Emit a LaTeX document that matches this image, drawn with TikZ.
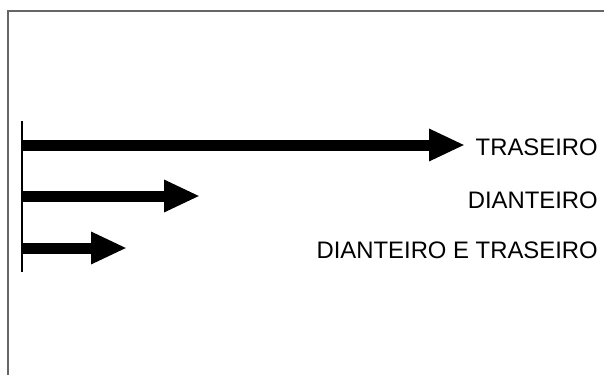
\documentclass[tikz,border=0pt]{standalone}
\usepackage{fontspec}
\setmainfont{Liberation Sans}
\usetikzlibrary{arrows.meta}

\begin{document}
\begin{tikzpicture}[x=0.75pt, y=-0.75pt,
    seta/.style={line width=8.25pt, -{Triangle[length=27pt, width=22.5pt]}},
    rotulo/.style={anchor=east, inner sep=0pt, font=\fontsize{17.9}{20}\selectfont}]
    \useasboundingbox (0,0) rectangle (604,375);
    % moldura (apenas bordas superior e esquerda)
    \draw[gray!80!black, line width=1.1pt] (8,375) -- (8,11) -- (604,11);
    % barra vertical
    \coordinate (topo) at (22,121);
    \coordinate (base) at (22,272);
    \draw[line width=1.6pt] (topo) -- (base);
    % setas e rotulos
    \foreach \nome/\ys/\yt/\fim/\texto in {tras/145/147.5/465/TRASEIRO,
        diant/196/200/200/DIANTEIRO, ambos/248/250/127/DIANTEIRO E TRASEIRO} {
        \coordinate (\nome-ini) at (21,\ys);
        \coordinate (\nome-fim) at (\fim,\ys);
        \node[rotulo] (\nome) at (598,\yt) {\texto};
        \draw[seta] (\nome-ini) -- (\nome-fim);
    }
\end{tikzpicture}
\end{document}
